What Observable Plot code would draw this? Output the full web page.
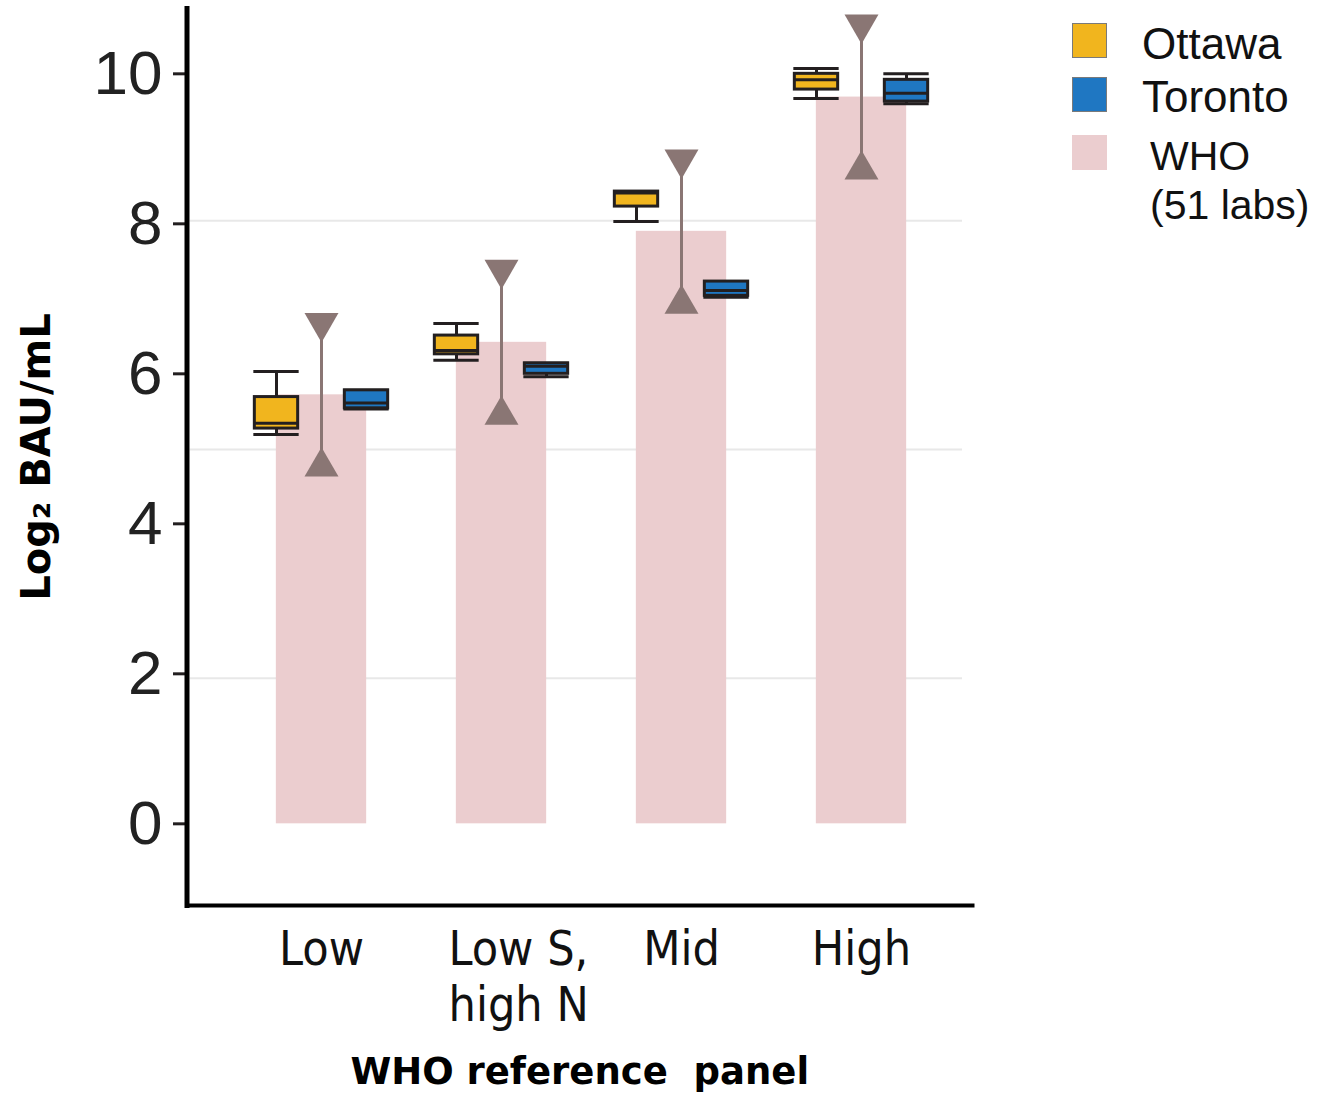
<!DOCTYPE html>
<html>
<head>
<meta charset="utf-8">
<script src="https://cdn.jsdelivr.net/npm/d3@7"></script>
<script src="https://cdn.jsdelivr.net/npm/@observablehq/plot@0.6"></script>
<style>
  html, body { margin: 0; padding: 0; background: #fff; }
  #wrap { position: relative; width: 1317px; height: 1094px; overflow: hidden; }
  #chart svg { display: block; }
  #legend { position: absolute; left: 1072px; top: 0; font-family: "Liberation Sans", Arial, sans-serif; color: #111; }
  .sw { position: absolute; left: 0; width: 35px; height: 35px; box-sizing: border-box; }
  .lab { position: absolute; white-space: pre; line-height: 1.2; }
</style>
</head>
<body>
<div id="wrap">
  <div id="chart"></div>
  <div id="legend"></div>
</div>
<script>
// Panel categories (x axis)
const categories = ["Low", "Low S,\nhigh N", "Mid", "High"];

// WHO collaborative study (51 labs): median bar and range
const whoMedian = [5.72, 6.42, 7.90, 9.69];
const whoMin = [4.76, 5.45, 6.93, 8.72];
const whoMax = [6.68, 7.39, 8.86, 10.66];

// Ottawa box statistics (log2 BAU/mL)
const ottawaMin = [5.19, 6.18, 8.03, 9.67];
const ottawaQ1 = [5.27, 6.26, 8.23, 9.79];
const ottawaMedian = [5.34, 6.31, 8.41, 9.92];
const ottawaQ3 = [5.69, 6.51, 8.43, 10.00];
const ottawaMax = [6.03, 6.67, 8.43, 10.07];

// Toronto box statistics (log2 BAU/mL)
const torontoMin = [5.53, 5.96, 7.02, 9.60];
const torontoQ1 = [5.54, 6.00, 7.04, 9.63];
const torontoMedian = [5.61, 6.10, 7.11, 9.74];
const torontoQ3 = [5.78, 6.14, 7.23, 9.92];
const torontoMax = [5.78, 6.14, 7.23, 10.00];

const yTicks = [0, 2, 4, 6, 8, 10];
const gridLines = [1.94, 4.99, 8.04];

const sites = ["Ottawa", "Toronto"];
const siteColors = ["#f1b51e", "#1f77c2"];
const whoColor = "#ebcdcf";
const rangeColor = "#8a7674";
const ink = "#231f20";

const who = categories.map((cat, i) => ({cat, median: whoMedian[i], min: whoMin[i], max: whoMax[i]}));
const boxes = [
  categories.map((cat, i) => ({cat, min: ottawaMin[i], q1: ottawaQ1[i], med: ottawaMedian[i], q3: ottawaQ3[i], max: ottawaMax[i]})),
  categories.map((cat, i) => ({cat, min: torontoMin[i], q1: torontoQ1[i], med: torontoMedian[i], q3: torontoQ3[i], max: torontoMax[i]}))
];

// layout of the band scale
const frameLeft = 186.5, frameRight = 972, svgWidth = 1317, svgHeight = 1094, frameTop = 8, frameBottom = 905;
const xRange = [229.65, 952.35];
const step = (xRange[1] - xRange[0]) / categories.length;
const offsets = [-45, 45];

// insets that place a sub-band of width w at offset off from the band centre
const sub = (off, w) => ({insetLeft: step / 2 + off - w / 2, insetRight: step / 2 - off - w / 2});

const boxMarks = boxes.flatMap((data, s) => {
  const off = offsets[s];
  return [
    Plot.ruleX(data, {x: "cat", y1: "min", y2: "max", dx: off, stroke: ink, strokeWidth: 3}),
    Plot.tickY(data, {x: "cat", y: "min", ...sub(off, 46), stroke: ink, strokeWidth: 3}),
    Plot.tickY(data, {x: "cat", y: "max", ...sub(off, 46), stroke: ink, strokeWidth: 3}),
    Plot.barY(data, {x: "cat", y1: "q1", y2: "q3", ...sub(off, 44), fill: siteColors[s], stroke: ink, strokeWidth: 3}),
    Plot.tickY(data, {x: "cat", y: "med", ...sub(off, 44), stroke: ink, strokeWidth: 3})
  ];
});

// x tick labels: single-line ones centred, the two-line one set flush left
const xLabelStyle = {
  tickSize: 0, tickPadding: 19, fontSize: 48, lineHeight: 1.18,
  fontFamily: "'DejaVu Sans Condensed', 'DejaVu Sans', sans-serif", fill: "#111", label: null
};
const multiLine = categories.filter(c => c.includes("\n"));
const singleLine = categories.filter(c => !c.includes("\n"));

const chart = Plot.plot({
  width: svgWidth, height: svgHeight,
  marginLeft: frameLeft, marginRight: svgWidth - frameRight, marginTop: frameTop, marginBottom: svgHeight - frameBottom,
  style: {background: "#fff", overflow: "visible"},
  x: {type: "band", domain: categories, range: xRange, padding: 0, axis: null},
  y: {domain: [-1.089, 10.871], axis: null},
  marks: [
    Plot.ruleY(gridLines, {stroke: "#e8e8e8", strokeWidth: 2, insetLeft: 3, insetRight: 10}),
    Plot.barY(who, {x: "cat", y1: 0, y2: "median", fill: whoColor, ...sub(0, 91)}),
    ...boxMarks,
    Plot.ruleX(who, {x: "cat", y1: "min", y2: "max", stroke: rangeColor, strokeWidth: 3}),
    Plot.dot(who, {x: "cat", y: "max", symbol: "triangle", rotate: 180, r: 12.6, fill: rangeColor, stroke: "none"}),
    Plot.dot(who, {x: "cat", y: "min", symbol: "triangle", r: 12.6, fill: rangeColor, stroke: "none"}),
    Plot.axisY(yTicks, {
      tickSize: 13.5, tickPadding: 11, strokeWidth: 3, stroke: ink, tickFormat: d3.format("d"),
      fontSize: 62, fontFamily: "'Liberation Sans', Arial, sans-serif", fill: "#222", label: null
    }),
    Plot.axisX(singleLine, xLabelStyle),
    Plot.axisX(multiLine, {...xLabelStyle, textAnchor: "start", dx: -53}),
    Plot.frame({anchor: "left", stroke: "#000", strokeWidth: 5}),
    Plot.frame({anchor: "bottom", stroke: "#000", strokeWidth: 4}),
    Plot.text(["WHO reference  panel"], {
      text: d => d, frameAnchor: "bottom", dy: 178, lineAnchor: "bottom", textAnchor: "middle",
      fontSize: 37, fontWeight: "bold", fontFamily: "'DejaVu Sans', sans-serif", fill: "#000"
    }),
    Plot.text(["Log\u2082 BAU/mL"], {
      text: d => d, frameAnchor: "left", dx: -150, rotate: -90, textAnchor: "middle",
      fontSize: 40, fontWeight: "bold", fontFamily: "'DejaVu Sans', sans-serif", fill: "#000"
    })
  ]
});
document.getElementById("chart").appendChild(chart);

// legend to the right of the plot
const legendItems = [
  {label: "Ottawa", color: siteColors[0], border: "#7a7a7a", top: 23, textTop: 18, textLeft: 70, size: 44},
  {label: "Toronto", color: siteColors[1], border: "#7a7a7a", top: 77, textTop: 71, textLeft: 70, size: 44},
  {label: "WHO\n(51 labs)", color: whoColor, border: whoColor, top: 135, textTop: 132, textLeft: 78, size: 41}
];
const legend = document.getElementById("legend");
for (const item of legendItems) {
  const sw = document.createElement("div");
  sw.className = "sw";
  sw.style.top = item.top + "px";
  sw.style.background = item.color;
  sw.style.border = "1px solid " + item.border;
  legend.appendChild(sw);
  const lab = document.createElement("div");
  lab.className = "lab";
  lab.style.top = item.textTop + "px";
  lab.style.left = item.textLeft + "px";
  lab.style.fontSize = item.size + "px";
  lab.textContent = item.label;
  legend.appendChild(lab);
}
</script>
</body>
</html>
